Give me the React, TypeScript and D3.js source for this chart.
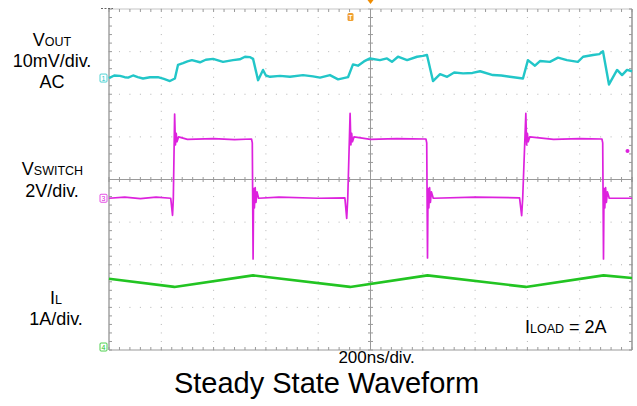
import React from 'react';
import * as d3 from 'd3';

// scope settings: 10 div x 200 ns, 8 vertical divisions
const timeSpanNs = 2000;
const nsPerDiv = 200;

// channel 1: Vout, AC coupled, mV  [t ns, mV]
const voutTrace: [number, number][] = [
  [0, 0.0], [20, 0.6], [42, 0.5], [60, 0.2], [73, 0.1], [92, 0.6], [110, 0.2], [130, -0.1],
  [157, 0.2], [187, 0.2], [210, -0.2], [233, -0.7], [252, -0.1], [264, 3.1], [283, 3.5],
  [300, 3.9], [317, 4.2], [348, 3.7], [370, 4.3], [398, 4.5], [436, 3.8], [474, 4.2],
  [500, 4.4], [520, 5.0], [540, 4.9], [551, 4.5], [570, -0.5], [589, 1.9], [600, 0.6],
  [616, 0.3], [654, 0.5], [692, 0.3], [742, 0.7], [780, 0.4], [807, 0.1], [845, 0.7],
  [876, -0.3], [914, 0.2], [933, 3.2], [952, 2.9], [975, 3.9], [998, 4.6], [1036, 4.2],
  [1063, 4.6], [1082, 3.8], [1105, 5.0], [1140, 4.2], [1178, 5.0], [1200, 5.2], [1216, 5.4],
  [1239, -0.7], [1266, 0.9], [1293, 0.3], [1320, 1.3], [1354, 1.1], [1390, 1.2], [1419, 1.6],
  [1468, 0.7], [1500, 0.6], [1533, 0.3], [1583, -0.1], [1602, 4.2], [1629, 2.9], [1648, 4.0],
  [1686, 3.8], [1717, 4.8], [1751, 4.2], [1793, 3.8], [1813, 5.0], [1851, 5.4], [1875, 5.6],
  [1889, 6.3], [1912, -1.5], [1943, 1.9], [1962, 0.7], [1981, 1.9], [2000, 1.6]
];

// channel 3: switch node, V  [t ns, V]
const vswTrace: [number, number][] = [
  [0, 0.0], [60, 0.05], [120, -0.02], [180, 0.05], [236, 0.0], [243, -0.8], [246, 0.0],
  [251, 3.95], [254, 2.5], [257, 3.05], [260, 2.65], [266, 2.88], [300, 2.76], [400, 2.8],
  [480, 2.75], [545, 2.78], [548, 2.6], [551, -2.85], [553, 0.45], [556, -0.45], [559, 0.5],
  [562, -0.2], [566, 0.3], [572, 0.0], [650, 0.05], [800, 0.0], [902, 0.02], [909, -0.95],
  [913, 0.0], [922, 3.98], [925, 2.5], [928, 3.05], [931, 2.65], [937, 2.88], [1000, 2.76],
  [1100, 2.8], [1212, 2.78], [1215, 2.6], [1218, -2.8], [1220, 0.45], [1223, -0.45],
  [1226, 0.5], [1229, -0.2], [1233, 0.3], [1240, 0.0], [1400, 0.05], [1570, 0.02],
  [1578, -0.82], [1582, 0.0], [1594, 3.98], [1597, 2.5], [1600, 3.05], [1603, 2.65],
  [1609, 2.88], [1700, 2.76], [1800, 2.8], [1885, 2.78], [1888, 2.6], [1891, -2.85],
  [1893, 0.45], [1896, -0.45], [1899, 0.5], [1902, -0.2], [1906, 0.3], [1913, 0.0],
  [2000, 0.0]
];

// channel 4: inductor current, A  [t ns, A]
const ilTrace: [number, number][] = [
  [0, 1.6], [250, 1.41], [551, 1.68], [922, 1.41], [1218, 1.68], [1594, 1.41], [1891, 1.68],
  [2000, 1.62]
];

const voutScale = { offsetDiv: 2.38, perDiv: 10 };
const vswScale = { offsetDiv: -0.44, perDiv: 2 };
const ilScale = { offsetDiv: -3.93, perDiv: 1 };

const W = 637;
const H = 406;
const left = 109, right = 632, top = 9, bottom = 350;
const font = 'Liberation Sans, Arial, sans-serif';

const App: React.FC = () => {
  const x = d3.scaleLinear().domain([0, timeSpanNs]).range([left, right]);
  const yDiv = d3.scaleLinear().domain([-4, 4]).range([bottom, top]);

  const chY = (s: { offsetDiv: number; perDiv: number }) => (v: number) => yDiv(s.offsetDiv + v / s.perDiv);
  const line = (s: { offsetDiv: number; perDiv: number }) => {
    const fy = chY(s);
    return d3.line<[number, number]>().x(d => x(d[0])).y(d => fy(d[1]));
  };

  const minorX = d3.range(0, timeSpanNs + 1, nsPerDiv / 5);
  const minorY = d3.range(-4, 4.001, 0.2);
  const majorX = d3.range(1, 10).filter(i => i !== 5).map(i => i * nsPerDiv);
  const majorY = d3.range(-3, 4).filter(j => j !== 0);

  const gridCol = '#b4b4b4';
  const axisCol = '#9a9a9a';

  const marker = (yy: number, label: string, color: string) => (
    <g>
      <rect x={100} y={yy - 4} width={7} height={8} fill="#fff" stroke={color} strokeWidth={0.8} rx={1} />
      <text x={103.5} y={yy + 3} fontSize={7} fill={color} textAnchor="middle" fontFamily={font}>{label}</text>
    </g>
  );

  return (
    <svg width={W} height={H} style={{ position: 'absolute', left: 0, top: 0, background: '#fff' }}>
      {/* dotted graticule */}
      {majorX.map(t => minorY.map(v => (
        <rect key={`vx${t}_${v}`} x={x(t) - 0.5} y={yDiv(v) - 0.5} width={1} height={1} fill={gridCol} />
      )))}
      {majorY.map(d => minorX.map(t => (
        <rect key={`hy${d}_${t}`} x={x(t) - 0.5} y={yDiv(d) - 0.5} width={1} height={1} fill={gridCol} />
      )))}

      {/* center crosshair with minor ticks */}
      <line x1={left} x2={right} y1={yDiv(0)} y2={yDiv(0)} stroke={axisCol} strokeWidth={1} />
      <line x1={x(1000)} x2={x(1000)} y1={top} y2={bottom} stroke={axisCol} strokeWidth={1} />
      {minorX.map(t => (
        <line key={`cx${t}`} x1={x(t)} x2={x(t)} y1={yDiv(0) - 2.5} y2={yDiv(0) + 2.5} stroke={axisCol} />
      ))}
      {minorY.map(v => (
        <line key={`cy${v}`} x1={x(1000) - 2.5} x2={x(1000) + 2.5} y1={yDiv(v)} y2={yDiv(v)} stroke={axisCol} />
      ))}

      {/* border with inward ticks */}
      <line x1={left} x2={right} y1={top} y2={top} stroke="#c4c4c4" />
      <line x1={left} x2={right} y1={bottom} y2={bottom} stroke={axisCol} />
      <line x1={left} x2={left} y1={top} y2={bottom} stroke="#8a8a8a" strokeWidth={1.2} />
      <line x1={right} x2={right} y1={top} y2={bottom} stroke="#7a7a7a" strokeWidth={1.2} />
      {minorX.map(t => (
        <g key={`bt${t}`}>
          <line x1={x(t)} x2={x(t)} y1={top} y2={top + 3} stroke={axisCol} />
          <line x1={x(t)} x2={x(t)} y1={bottom} y2={bottom - 3} stroke={axisCol} />
        </g>
      ))}
      {minorY.map(v => (
        <g key={`bl${v}`}>
          <line x1={left} x2={left + 3} y1={yDiv(v)} y2={yDiv(v)} stroke={axisCol} />
          <line x1={right} x2={right - 3} y1={yDiv(v)} y2={yDiv(v)} stroke={axisCol} />
        </g>
      ))}
      <line x1={101} x2={113} y1={8.5} y2={8.5} stroke="#666" strokeDasharray="2,1.5" />

      {/* traces */}
      <path d={line(ilScale)(ilTrace) || ''} fill="none" stroke="#22c422" strokeWidth={2.6} strokeLinejoin="round" />
      <path d={line(vswScale)(vswTrace) || ''} fill="none" stroke="#dd22dd" strokeWidth={1.7} strokeLinejoin="round" />
      <path d={line(voutScale)(voutTrace) || ''} fill="none" stroke="#22c6c8" strokeWidth={2.4} strokeLinejoin="round" />

      {/* channel markers */}
      {marker(chY(voutScale)(0), '1', '#22c6c8')}
      {marker(chY(vswScale)(0), '3', '#dd22dd')}
      {marker(chY(ilScale)(0), '4', '#22c422')}

      {/* trigger markers */}
      <path d={`M${x(1000) - 3},0 L${x(1000) + 3},0 L${x(1000)},4 Z`} fill="#f08c00" />
      <rect x={347.5} y={13} width={6} height={8} rx={1.5} fill="#f0a030" />
      <text x={350.5} y={19.5} fontSize={6.5} fill="#fff" textAnchor="middle" fontFamily={font} fontWeight="bold">T</text>
      <circle cx={627.5} cy={151} r={2} fill="#dd22dd" />

      {/* labels */}
      <g fontFamily={font} fill="#000">
        <text x={52} y={46} fontSize={18} textAnchor="middle">V<tspan fontSize={12.5}>OUT</tspan></text>
        <text x={52} y={67} fontSize={18} textAnchor="middle">10mV/div.</text>
        <text x={52} y={88} fontSize={18} textAnchor="middle">AC</text>
        <text x={52.5} y={175} fontSize={18} textAnchor="middle">V<tspan fontSize={12.5}>SWITCH</tspan></text>
        <text x={52} y={197} fontSize={18} textAnchor="middle">2V/div.</text>
        <text x={56} y={304} fontSize={18} textAnchor="middle">I<tspan fontSize={12.5}>L</tspan></text>
        <text x={56} y={325} fontSize={18} textAnchor="middle">1A/div.</text>
        <text x={525} y={333} fontSize={18}>I<tspan fontSize={12.5}>LOAD</tspan> = 2A</text>
        <text x={376.5} y={363} fontSize={17} textAnchor="middle">200ns/div.</text>
        <text x={326.5} y={393} fontSize={29} textAnchor="middle">Steady State Waveform</text>
      </g>
    </svg>
  );
};

export default App;
